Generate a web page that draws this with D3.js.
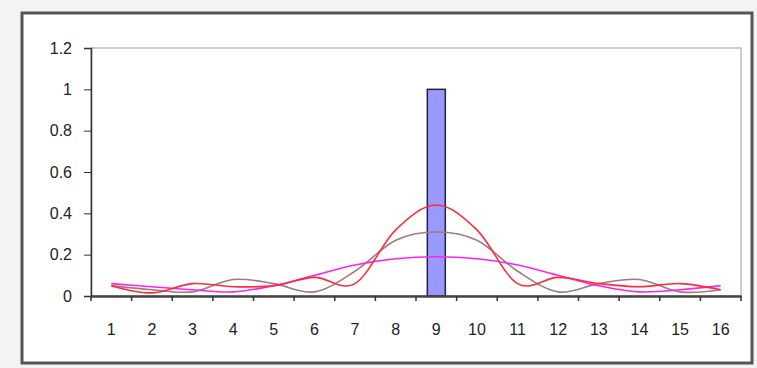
<!DOCTYPE html>
<html><head><meta charset="utf-8">
<script src="https://cdn.jsdelivr.net/npm/d3@7"></script>
<style>body{margin:0;background:#f3f3f3;}svg{display:block;}</style>
</head><body>
<svg id="c" width="757" height="368"></svg>
<script>
const categories = ["1","2","3","4","5","6","7","8","9","10","11","12","13","14","15","16"];
const barValues = [0,0,0,0,0,0,0,0,1,0,0,0,0,0,0,0];
const redValues = [0.05,0.015,0.06,0.045,0.05,0.09,0.06,0.32,0.44,0.32,0.06,0.09,0.06,0.045,0.06,0.03];
const brownValues = [0.05,0.03,0.02,0.08,0.06,0.02,0.12,0.27,0.31,0.27,0.12,0.02,0.06,0.08,0.02,0.03];
const magentaValues = [0.06,0.045,0.03,0.02,0.05,0.10,0.15,0.18,0.19,0.18,0.15,0.10,0.05,0.02,0.03,0.05];
const yTicks = [0,0.2,0.4,0.6,0.8,1,1.2];
const yTickLabels = ["0","0.2","0.4","0.6","0.8","1","1.2"];

const svg = d3.select("#c");
svg.append("rect").attr("x",22).attr("y",13).attr("width",730).attr("height",350)
  .attr("fill","#fff").attr("stroke","#555").attr("stroke-width",3);

const L=91, R=741, T=48, B=296;
const x = d3.scaleBand().domain(categories).range([L,R]).padding(0);
const y = d3.scaleLinear().domain([0,1.2]).range([B,T]);
const font = "Liberation Sans, Arial, sans-serif";

// plot area border
svg.append("rect").attr("x",L).attr("y",T).attr("width",R-L).attr("height",B-T)
  .attr("fill","none").attr("stroke","#999").attr("stroke-width",1);

// bar
svg.append("g").selectAll("rect").data(barValues.map((v,i)=>({c:categories[i],v})).filter(d=>d.v>0))
  .join("rect")
  .attr("x",d=>x(d.c)+x.bandwidth()/2-9).attr("width",18)
  .attr("y",d=>y(d.v)).attr("height",d=>y(0)-y(d.v))
  .attr("fill","#9999ff").attr("stroke","#222244").attr("stroke-width",1.5);

const line = d3.line().x((d,i)=>x(categories[i])+x.bandwidth()/2).y(d=>y(d)).curve(d3.curveCardinal.tension(0));
const series = [
  {v:brownValues, c:"#a07b80"},
  {v:magentaValues, c:"#ff22ee"},
  {v:redValues, c:"#ff2a3a"}
];
series.forEach(s=>{
  svg.append("path").attr("d",line(s.v)).attr("fill","none").attr("stroke",s.c).attr("stroke-width",1.6);
});

// y axis
const yAxis = svg.append("g").attr("transform",`translate(${L},0)`)
  .call(d3.axisLeft(y).tickValues(yTicks).tickFormat((d,i)=>yTickLabels[i]).tickSize(7).tickPadding(12));
yAxis.select(".domain").attr("stroke","#333").attr("stroke-width",1.5);
yAxis.selectAll(".tick line").attr("stroke","#333");
yAxis.selectAll("text").attr("font-family",font).attr("font-size",16).attr("fill","#222");

// x axis
const xAxis = svg.append("g").attr("transform",`translate(0,${B})`)
  .call(d3.axisBottom(x).tickSize(0).tickPadding(28));
xAxis.select(".domain").attr("stroke","#444").attr("stroke-width",2.5);
xAxis.selectAll("text").attr("font-family",font).attr("font-size",16).attr("fill","#222");
svg.append("g").selectAll("line").data(d3.range(categories.length+1))
  .join("line")
  .attr("x1",i=>L+i*x.bandwidth()).attr("x2",i=>L+i*x.bandwidth())
  .attr("y1",B).attr("y2",B+5).attr("stroke","#333").attr("stroke-width",1.5);
</script>
</body></html>
